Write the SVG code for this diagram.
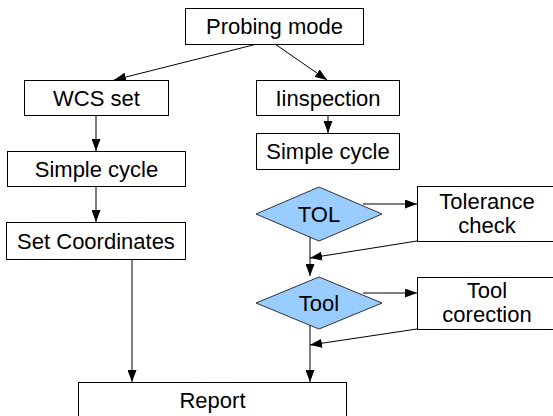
<svg xmlns="http://www.w3.org/2000/svg" width="553" height="416" viewBox="0 0 553 416">
<style>
.box{fill:#fff;stroke:#000;stroke-width:1}
.dia{fill:#99ccff;stroke:#333;stroke-width:1}
.t{font-family:"Liberation Sans",Arial,sans-serif;font-size:22px;fill:#000;text-anchor:middle}
.c{fill:none;stroke:#000;stroke-width:1}
</style>
<defs>
<marker id="ah" markerUnits="userSpaceOnUse" markerWidth="13" markerHeight="9" refX="12" refY="4.5" orient="auto">
<path d="M0,0 L12,4.5 L0,9 z" fill="#000"/>
</marker>
</defs>
<rect width="553" height="416" fill="#fff"/>
<g id="connectors">
<line class="c" x1="257" y1="44" x2="114" y2="80" marker-end="url(#ah)"/>
<line class="c" x1="275" y1="44" x2="327" y2="80" marker-end="url(#ah)"/>
<line class="c" x1="96" y1="115" x2="96" y2="151" marker-end="url(#ah)"/>
<line class="c" x1="96" y1="186" x2="96" y2="222" marker-end="url(#ah)"/>
<line class="c" x1="132" y1="259" x2="132" y2="382" marker-end="url(#ah)"/>
<line class="c" x1="328" y1="115" x2="328" y2="133" marker-end="url(#ah)"/>
<line class="c" x1="363" y1="204" x2="417" y2="204" marker-end="url(#ah)"/>
<line class="c" x1="417" y1="241" x2="310" y2="258" marker-end="url(#ah)"/>
<line class="c" x1="310" y1="237" x2="310" y2="276" marker-end="url(#ah)"/>
<line class="c" x1="363" y1="293" x2="417" y2="293" marker-end="url(#ah)"/>
<line class="c" x1="417" y1="329" x2="310" y2="345" marker-end="url(#ah)"/>
<line class="c" x1="310" y1="325" x2="310" y2="382" marker-end="url(#ah)"/>
</g>
<g id="probing-mode"><rect class="box" x="185.5" y="8.5" width="178" height="36"/><text class="t" x="274.5" y="34">Probing mode</text></g>
<g id="wcs-set"><rect class="box" x="24.5" y="80.5" width="144" height="35"/><text class="t" x="96.5" y="106">WCS set</text></g>
<g id="simple-cycle-left"><rect class="box" x="7.5" y="151.5" width="178" height="35"/><text class="t" x="96.5" y="177">Simple cycle</text></g>
<g id="set-coordinates"><rect class="box" x="6.5" y="222.5" width="179" height="37"/><text class="t" x="96" y="249">Set Coordinates</text></g>
<g id="report"><rect class="box" x="78.5" y="382.5" width="268" height="40"/><text class="t" x="212.5" y="408">Report</text></g>
<g id="inspection"><rect class="box" x="256.5" y="80.5" width="143" height="35"/><text class="t" x="328" y="106">Iinspection</text></g>
<g id="simple-cycle-right"><rect class="box" x="256.5" y="133.5" width="143" height="36"/><text class="t" x="328" y="159">Simple cycle</text></g>
<g id="tol"><polygon class="dia" points="319,187 382,214 319,241 256,214"/><text class="t" x="319" y="222">TOL</text></g>
<g id="tolerance-check"><rect class="box" x="417.5" y="186.5" width="140" height="55"/><text class="t" x="487" y="209">Tolerance</text><text class="t" x="487" y="233">check</text></g>
<g id="tool"><polygon class="dia" points="319,277 382,303 319,329 256,303"/><text class="t" x="319" y="311">Tool</text></g>
<g id="tool-correction"><rect class="box" x="417.5" y="277.5" width="140" height="52"/><text class="t" x="487" y="298">Tool</text><text class="t" x="487" y="322">corection</text></g>
</svg>
